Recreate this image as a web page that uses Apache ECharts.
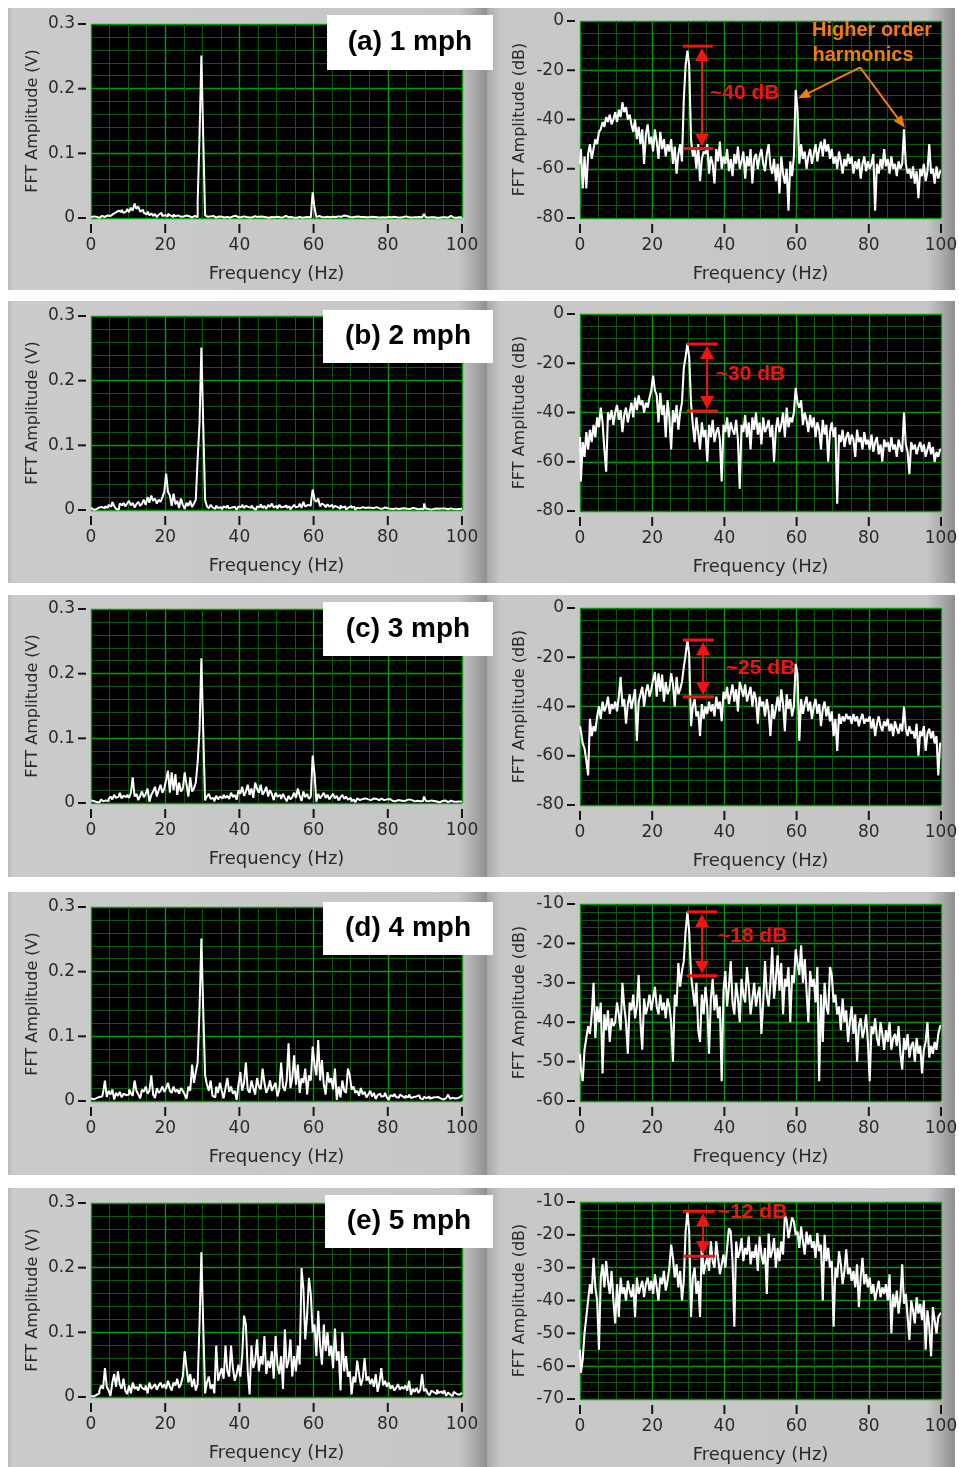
<!DOCTYPE html>
<html><head><meta charset="utf-8">
<script src="https://cdn.jsdelivr.net/npm/echarts@6/dist/echarts.min.js"></script>
<style>html,body{margin:0;padding:0;background:#fff}#c{width:959px;height:1467px}</style>
</head><body><div id="c"></div><script>
// FFT bin spacing (Hz); spectra, 0..100 Hz
const freqStep = 0.5;
const db1mph = [
-58,-52,-68,-55,-68,-54,-50,-56,-52,-48,
-50,-45,-44,-41,-43,-39,-41,-38,-42,-40,
-37,-41,-36,-39,-33,-37,-35,-40,-38,-42,
-45,-40,-48,-43,-50,-44,-58,-46,-42,-50,
-47,-53,-44,-49,-56,-45,-52,-48,-55,-50,
-53,-48,-58,-51,-62,-54,-50,-57,-32,-18,
-12,-18,-48,-55,-52,-60,-50,-65,-56,-53,
-54,-50,-62,-55,-58,-66,-52,-57,-49,-60,
-55,-58,-52,-61,-56,-63,-54,-58,-51,-60,
-57,-53,-64,-55,-59,-52,-66,-56,-54,-60,
-55,-52,-58,-61,-54,-50,-59,-62,-56,-65,
-58,-70,-55,-62,-66,-60,-77,-57,-63,-55,
-28,-36,-58,-50,-56,-53,-60,-55,-52,-58,
-54,-50,-57,-52,-49,-55,-48,-53,-50,-56,
-52,-58,-55,-60,-53,-57,-62,-56,-59,-54,
-58,-55,-62,-57,-60,-56,-64,-58,-55,-61,
-57,-60,-58,-54,-77,-58,-62,-56,-60,-52,
-59,-56,-62,-55,-60,-58,-63,-57,-60,-58,
-44,-58,-62,-60,-64,-59,-66,-61,-72,-60,
-63,-58,-65,-61,-50,-62,-60,-66,-59,-64,
-61];
const db2mph = [
-50,-68,-52,-58,-48,-55,-47,-52,-45,-50,
-42,-46,-38,-44,-55,-64,-40,-43,-39,-45,
-40,-37,-43,-39,-48,-41,-38,-44,-40,-36,
-42,-34,-39,-33,-37,-35,-40,-36,-38,-34,
-31,-25,-31,-33,-44,-32,-41,-37,-50,-35,
-42,-55,-39,-44,-37,-47,-40,-36,-22,-17.5,
-12,-17.5,-36,-45,-52,-42,-48,-55,-44,-50,
-47,-60,-45,-50,-43,-52,-48,-46,-51,-68,
-45,-48,-42,-50,-44,-47,-49,-43,-51,-71,
-45,-48,-41,-50,-44,-55,-42,-47,-40,-49,
-44,-53,-42,-48,-46,-43,-50,-45,-60,-47,
-42,-48,-45,-40,-50,-38,-46,-42,-44,-40,
-30,-36,-38,-35,-45,-40,-43,-48,-41,-46,
-42,-50,-44,-47,-55,-43,-49,-45,-60,-48,
-44,-50,-46,-77,-49,-52,-47,-54,-50,-48,
-53,-49,-51,-58,-47,-52,-50,-55,-48,-53,
-51,-55,-49,-56,-52,-50,-57,-53,-60,-51,
-54,-52,-56,-50,-55,-53,-58,-51,-54,-56,
-40,-53,-56,-65,-52,-55,-53,-57,-54,-52,
-56,-53,-58,-55,-52,-57,-54,-60,-56,-58,
-55];
const db3mph = [
-48,-50,-55,-57,-62,-68,-45,-52,-48,-50,
-44,-40,-45,-38,-42,-40,-36,-43,-39,-41,
-38,-42,-36,-28,-40,-37,-47,-39,-35,-41,
-37,-33,-54,-38,-35,-32,-40,-34,-31,-36,
-33,-29,-26,-36,-26.5,-34,-27,-38,-30,-35,
-33,-26.5,-31,-40,-28,-35,-33,-30,-24,-19,
-13,-19,-48,-40,-37,-44,-42,-52,-39,-45,
-40,-43,-38,-42,-39,-44,-36,-41,-38,-46,
-34,-37,-32,-39,-35,-31,-38,-33,-42,-30,
-33,-36,-31,-38,-35,-32,-40,-34,-37,-47,
-36,-40,-38,-44,-37,-42,-52,-39,-45,-41,
-36,-42,-33,-39,-50,-35,-41,-37,-44,-40,
-22.7,-27,-54,-37,-43,-39,-36,-42,-38,-45,
-40,-37,-43,-39,-48,-41,-38,-44,-40,-46,
-42,-52,-45,-58,-43,-47,-44,-46,-43,-45,
-44,-47,-43,-46,-44,-48,-45,-43,-47,-45,
-46,-44,-49,-45,-52,-47,-44,-48,-50,-46,
-48,-45,-50,-47,-52,-46,-49,-51,-47,-50,
-40,-49,-52,-48,-51,-50,-53,-47,-60,-50,
-52,-48,-58,-51,-49,-53,-50,-55,-52,-68,
-55];
const db4mph = [
-48,-52,-55,-47,-44,-41,-43,-38,-30,-44,
-36,-40,-35,-53,-38,-42,-37,-45,-39,-41,
-40,-35,-38,-42,-30,-36,-40,-48,-35,-37,
-33,-39,-36,-28,-40,-47,-34,-38,-36,-33,
-37,-34,-31,-36,-38,-33,-37,-35,-39,-34,
-36,-40,-50,-33,-36,-25,-31,-27,-24.5,-17,
-12,-17,-28,-32,-36,-30,-42,-45,-33,-38,
-31,-36,-48,-34,-29,-37,-33,-39,-36,-55,
-32,-27,-36,-31,-24.5,-35,-38,-30,-34,-40,
-29,-33,-35,-26,-31,-38,-34,-30,-36,-33,
-31,-43,-35,-24.5,-33,-36,-30,-21,-34,-29,
-23,-32,-25,-38,-29,-31,-26,-40,-28,-30,
-21.5,-25,-28,-20.5,-30,-24,-32,-40,-27,-31,
-29,-35,-26,-55,-33,-45,-30,-36,-38,-26,
-28,-35,-33,-38,-36,-42,-34,-40,-37,-45,
-40,-36,-43,-38,-50,-41,-39,-44,-42,-38,
-45,-55,-41,-43,-39,-44,-46,-40,-43,-47,
-42,-45,-40,-47,-44,-43,-46,-41,-48,-52,
-44,-47,-43,-49,-46,-45,-50,-44,-48,-46,
-53,-47,-45,-40,-49,-46,-48,-45,-47,-43,
-41];
const db5mph = [
-55,-62,-58,-50,-45,-40,-35,-38,-27,-36,
-40,-55,-33,-29,-36,-28,-34,-38,-31,-40,
-47,-35,-45,-33,-38,-36,-40,-34,-37,-39,
-35,-45,-33,-38,-36,-34,-39,-35,-33,-37,
-34,-38,-32,-36,-40,-33,-35,-31,-37,-34,
-30,-23,-27,-33,-29,-36,-31,-40,-34,-19,
-13,-19,-45,-33,-30,-38,-34,-45,-22,-32,
-29,-27,-31,-22,-28,-30,-22,-27,-32,-29,
-26,-30,-24,-18,-19,-28,-48,-22,-27,-25,
-21,-28,-24,-26,-20.5,-29,-25,-27,-23,-31,
-20.5,-26,-29,-24,-38,-19.6,-27,-25,-21,-30,
-24,-28,-22,-26,-14,-15.5,-21,-18,-14.7,-16,
-20,-19,-24,-17.5,-22,-26,-19,-23,-20,-24,
-22,-27,-19.5,-25,-23,-40,-20,-28,-24,-30,
-28,-48,-30,-33,-25,-29,-35,-31,-24.4,-32,
-30,-34,-31,-36,-29,-42,-33,-27,-35,-32,
-36,-33,-38,-35,-40,-37,-34,-39,-36,-38,
-35,-40,-32,-50,-38,-42,-37,-44,-39,-29,
-41,-38,-45,-52,-40,-43,-47,-39,-44,-41,
-46,-40,-55,-43,-48,-57,-42,-46,-50,-45,
-44];
const spectraDb = [db1mph, db2mph, db3mph, db4mph, db5mph];
const panelLabels = ['(a) 1 mph', '(b) 2 mph', '(c) 3 mph', '(d) 4 mph', '(e) 5 mph'];
// dB axis ranges per row: [min, max, interval, minor divisions]
const dbAxisRanges = [[-80, 0, 20, 4], [-80, 0, 20, 4], [-80, 0, 20, 4], [-60, -10, 10, 5], [-70, -10, 10, 4]];
const voltAxisRange = [0, 0.3, 0.1, 5];
const freqAxisRange = [0, 100, 20, 4];
// difference annotations: [top dB, bottom dB, label]
const dbSpans = [[-10.2, -51.8, '~40 dB'], [-12.2, -39.4, '~30 dB'], [-13, -36.1, '~25 dB'], [-12, -28.2, '~18 dB'], [-12.8, -26.5, '~12 dB']];
const harmonicsLabel = ['Higher order', 'harmonics'];

// ---------- layout ----------
const leftTops = [24, 316, 609, 907, 1203];
const rightTops = [21, 314, 608, 904, 1202];
const panelTops = [8, 301, 595, 892, 1188];
const panelBottoms = [290, 583, 877, 1175, 1467];
const labelBoxes = [[327, 15, 166, 55], [323, 310, 170, 53], [323, 602, 170, 54], [323, 902, 170, 53], [325, 1195, 168, 53]];
const spanGeom = [[33.8, 28.5, 36.8, 36.0, -29.4], [35.2, 29.6, 38.2, 37.6, -24.4], [34.1, 28.5, 37.1, 40.4, -24.4], [33.8, 29.6, 38.0, 38.2, -18.3], [34.1, 28.5, 37.4, 38.2, -13.0]];

const FONT = 'DejaVu Sans';
const TXT = '#2a2a2a';
const chart = echarts.init(document.getElementById('c'), null, {renderer: 'canvas'});

const grids = [], xAxes = [], yAxes = [], series = [];
function xAxisDef(gi) {
  return {type: 'value', gridIndex: gi, min: freqAxisRange[0], max: freqAxisRange[1], interval: freqAxisRange[2],
    offset: 6, axisLine: {show: false}, axisTick: {show: false},
    axisLabel: {color: TXT, fontFamily: FONT, fontSize: 17, margin: 13},
    splitLine: {show: true, lineStyle: {color: '#0c980c', width: 1.4}},
    minorTick: {show: false, splitNumber: freqAxisRange[3]},
    minorSplitLine: {show: true, lineStyle: {color: '#0a5c0a', width: 1}},
    name: 'Frequency (Hz)', nameLocation: 'middle', nameGap: 41,
    nameTextStyle: {color: TXT, fontFamily: FONT, fontSize: 18}};
}
function yAxisDef(gi, r, name, gap) {
  return {type: 'value', gridIndex: gi, min: r[0], max: r[1], interval: r[2],
    offset: 5, axisLine: {show: false}, axisTick: {show: false},
    axisLabel: {color: TXT, fontFamily: FONT, fontSize: 17, margin: 11},
    splitLine: {show: true, lineStyle: {color: '#0c980c', width: 1.4}},
    minorTick: {show: false, splitNumber: r[3]},
    minorSplitLine: {show: true, lineStyle: {color: '#0a5c0a', width: 1}},
    name: name, nameLocation: 'middle', nameGap: gap,
    nameTextStyle: {color: TXT, fontFamily: FONT, fontSize: 16}};
}
for (let k = 0; k < 5; k++) {
  grids.push({left: 91, top: leftTops[k], width: 371, height: 194, show: true, backgroundColor: '#000', borderWidth: 0, containLabel: false, outerBoundsMode: 'none'});
  xAxes.push(xAxisDef(k));
  yAxes.push(yAxisDef(k, voltAxisRange, 'FFT Amplitude (V)', 45));
  series.push({type: 'line', xAxisIndex: k, yAxisIndex: k, step: 'middle', symbol: 'none', silent: true,
    lineStyle: {color: '#fff', width: 2}, clip: true,
    data: spectraDb[k].map((d, i) => [i * freqStep, Math.pow(10, d / 20)])});
}
for (let k = 0; k < 5; k++) {
  const gi = 5 + k;
  grids.push({left: 580, top: rightTops[k], width: 361, height: 197, show: true, backgroundColor: '#000', borderWidth: 0, containLabel: false, outerBoundsMode: 'none'});
  xAxes.push(xAxisDef(gi));
  yAxes.push(yAxisDef(gi, dbAxisRanges[k], 'FFT Amplitude (dB)', 47));
  series.push({type: 'line', xAxisIndex: gi, yAxisIndex: gi, step: 'middle', symbol: 'none', silent: true,
    lineStyle: {color: '#fff', width: 2.1}, clip: true,
    data: spectraDb[k].map((d, i) => [i * freqStep, d])});
}

const baseGraphics = [];
for (let k = 0; k < 5; k++) {
  const t = panelTops[k], h = panelBottoms[k] - t;
  baseGraphics.push({type: 'rect', z: -10, silent: true, shape: {x: 8, y: t, width: 479, height: h},
    style: {fill: {type: 'linear', x: 0, y: 0, x2: 1, y2: 0, colorStops: [
      {offset: 0, color: '#b9b9b9'}, {offset: 0.01, color: '#cbcbcb'}, {offset: 0.94, color: '#c6c6c6'},
      {offset: 0.975, color: '#a9a9a9'}, {offset: 1, color: '#8e8e8e'}]}}});
  baseGraphics.push({type: 'rect', z: -10, silent: true, shape: {x: 487, y: t, width: 468, height: h},
    style: {fill: {type: 'linear', x: 0, y: 0, x2: 1, y2: 0, colorStops: [
      {offset: 0, color: '#a8a8a8'}, {offset: 0.03, color: '#c8c8c8'}, {offset: 0.94, color: '#c6c6c6'},
      {offset: 0.975, color: '#a9a9a9'}, {offset: 1, color: '#8e8e8e'}]}}});
  const b = labelBoxes[k];
  baseGraphics.push({type: 'rect', z: 50, silent: true, shape: {x: b[0], y: b[1], width: b[2], height: b[3]}, style: {fill: '#fff'}});
  baseGraphics.push({type: 'text', z: 51, silent: true, x: b[0] + b[2] / 2, y: b[1] + b[3] / 2,
    style: {text: panelLabels[k], fill: '#000', font: 'bold 28px "Liberation Sans", Arial, sans-serif',
      align: 'center', verticalAlign: 'middle', textAlign: 'center', textVerticalAlign: 'middle'}});
}

chart.setOption({animation: false, backgroundColor: '#fff', grid: grids, xAxis: xAxes, yAxis: yAxes, series: series, graphic: baseGraphics});

// ---------- axis tick marks (drawn at the axes' own tick values) ----------
function px(gi, x, y) { return chart.convertToPixel({gridIndex: gi}, [x, y]); }
const ticks = [];
const TICK = '#151515';
for (let gi = 0; gi < 10; gi++) {
  const yr = gi < 5 ? voltAxisRange : dbAxisRanges[gi - 5];
  const bottomY = px(gi, 0, yr[0])[1];
  const leftX = px(gi, freqAxisRange[0], yr[0])[0];
  for (let f = freqAxisRange[0]; f <= freqAxisRange[1] + 1e-9; f += freqAxisRange[2]) {
    const xp = px(gi, f, yr[0])[0];
    ticks.push({type: 'line', z: 5, silent: true, shape: {x1: xp, y1: bottomY + 6, x2: xp, y2: bottomY + 15}, style: {stroke: TICK, lineWidth: 2}});
  }
  const nT = Math.round((yr[1] - yr[0]) / yr[2]);
  for (let j = 0; j <= nT; j++) {
    const yp = px(gi, 0, yr[0] + j * yr[2])[1];
    ticks.push({type: 'line', z: 5, silent: true, shape: {x1: leftX - 13, y1: yp, x2: leftX - 5, y2: yp}, style: {stroke: TICK, lineWidth: 2}});
  }
}

// ---------- annotations in data space ----------
function arrowHead(tip, from, len, wid, color) {
  const dx = tip[0] - from[0], dy = tip[1] - from[1], L = Math.hypot(dx, dy);
  const ux = dx / L, uy = dy / L, nx = -uy, ny = ux;
  const bx = tip[0] - ux * len, by = tip[1] - uy * len;
  return {type: 'polygon', z: 60, silent: true, shape: {points: [tip, [bx + nx * wid / 2, by + ny * wid / 2], [bx - nx * wid / 2, by - ny * wid / 2]]}, style: {fill: color}};
}
const ann = [];
const RED = '#f41212';
for (let k = 0; k < 5; k++) {
  const gi = 5 + k, s = dbSpans[k], g = spanGeom[k];
  const top = px(gi, g[0], s[0]), bot = px(gi, g[0], s[1]);
  const c0t = px(gi, g[1], s[0]), c1t = px(gi, g[2], s[0]);
  const c0b = px(gi, g[1], s[1]), c1b = px(gi, g[2], s[1]);
  ann.push({type: 'line', z: 60, silent: true, shape: {x1: c0t[0], y1: top[1], x2: c1t[0], y2: top[1]}, style: {stroke: RED, lineWidth: 3}});
  ann.push({type: 'line', z: 60, silent: true, shape: {x1: c0b[0], y1: bot[1], x2: c1b[0], y2: bot[1]}, style: {stroke: RED, lineWidth: 3}});
  ann.push({type: 'line', z: 60, silent: true, shape: {x1: top[0], y1: top[1] + 10, x2: bot[0], y2: bot[1] - 10}, style: {stroke: RED, lineWidth: 2}});
  ann.push(arrowHead([top[0], top[1] + 2], [top[0], bot[1]], 13, 14, RED));
  ann.push(arrowHead([bot[0], bot[1] - 2], [bot[0], top[1]], 13, 14, RED));
  const lp = px(gi, g[3], g[4]);
  ann.push({type: 'text', z: 61, silent: true, x: lp[0], y: lp[1],
    style: {text: s[2], fill: RED, font: 'bold 21px "Liberation Sans", Arial, sans-serif',
      align: 'left', verticalAlign: 'middle', textAlign: 'left', textVerticalAlign: 'middle'}});
}
// harmonics callout on the 1 mph dB panel
const ORANGE = '#f57a10';
const hOrigin = px(5, 77.6, -18.8);
const hTargets = [px(5, 60.4, -31.4), px(5, 90.0, -43.3)];
ann.push({type: 'text', z: 61, silent: true, x: 872, y: 30,
  style: {text: harmonicsLabel[0], fill: ORANGE, font: 'bold 20px "Liberation Sans", Arial, sans-serif', align: 'center', verticalAlign: 'middle', textAlign: 'center', textVerticalAlign: 'middle'}});
ann.push({type: 'text', z: 61, silent: true, x: 863, y: 55,
  style: {text: harmonicsLabel[1], fill: ORANGE, font: 'bold 20px "Liberation Sans", Arial, sans-serif', align: 'center', verticalAlign: 'middle', textAlign: 'center', textVerticalAlign: 'middle'}});
hTargets.forEach(t => {
  const dx = t[0] - hOrigin[0], dy = t[1] - hOrigin[1], L = Math.hypot(dx, dy);
  ann.push({type: 'line', z: 60, silent: true, shape: {x1: hOrigin[0], y1: hOrigin[1], x2: t[0] - dx / L * 10, y2: t[1] - dy / L * 10}, style: {stroke: ORANGE, lineWidth: 2}});
  ann.push(arrowHead(t, hOrigin, 12, 10, ORANGE));
});

chart.setOption({graphic: baseGraphics.concat(ticks, ann)});
</script></body></html>
